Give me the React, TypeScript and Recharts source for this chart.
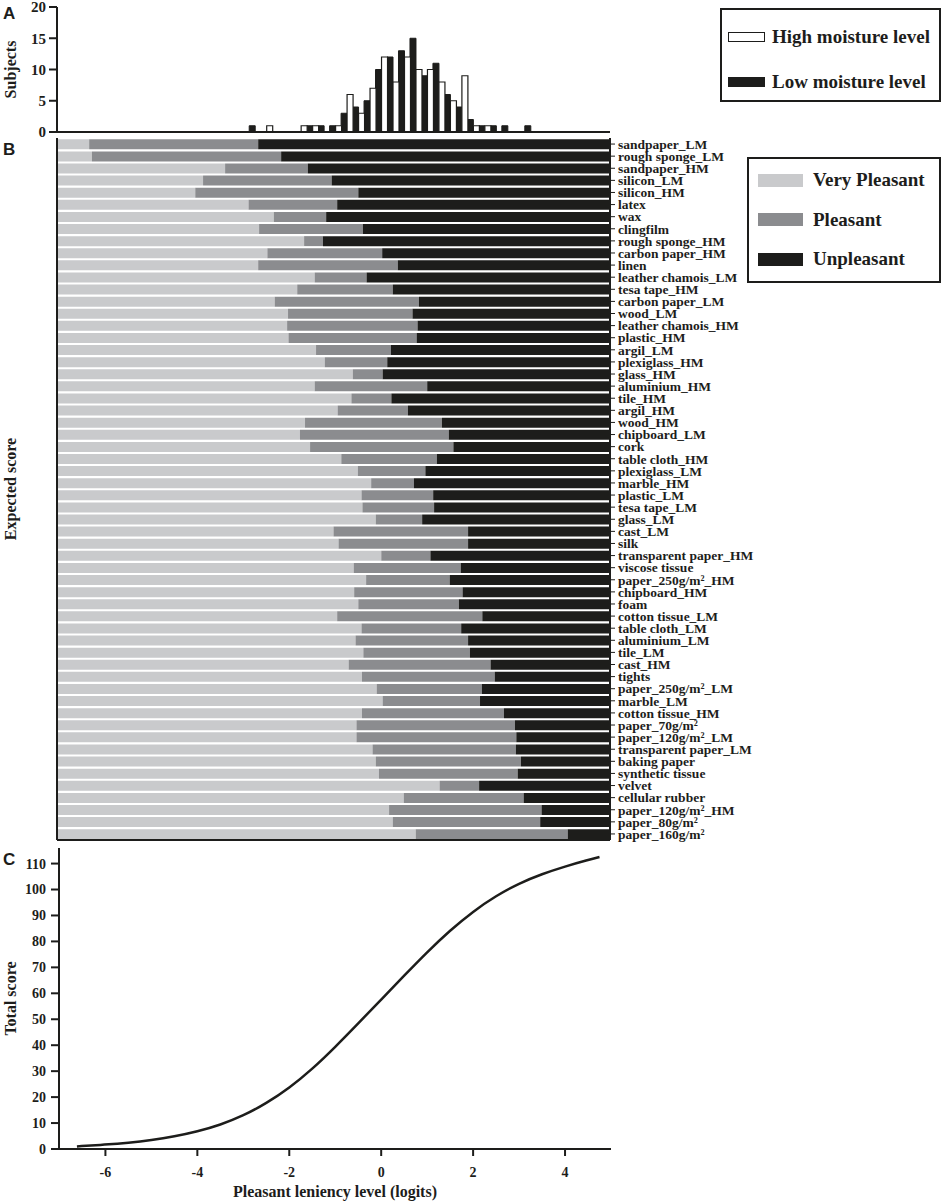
import * as React from 'react';
import { BarChart, Bar, LineChart, Line, XAxis, YAxis, Legend } from 'recharts';

const SERIF = "'Liberation Serif', 'Times New Roman', serif";
const INK = '#1d1d1b';

// shared logit scale for the three panels
const LOGIT_MIN = -7.06;
const LOGIT_MAX = 4.98;
const LOGIT_TICKS = [-6, -4, -2, 0, 2, 4];

// panel A: subjects per leniency bin
const binCenters = [
  -2.75, -2.5, -2.25, -2, -1.75, -1.5, -1.25, -1, -0.75, -0.5, -0.25, 0, 0.25,
  0.5, 0.75, 1, 1.25, 1.5, 1.75, 2, 2.25, 2.5, 2.75, 3, 3.25,
];
const highMoisture = [0, 1, 0, 0, 1, 1, 0, 1, 6, 3, 7, 12, 8, 12, 10, 10, 8, 5, 9, 1, 1, 0, 0, 0, 0];
const lowMoisture = [1, 0, 0, 0, 0, 1, 1, 1, 3, 4, 5, 10, 12, 13, 15, 9, 11, 6, 4, 2, 1, 1, 1, 0, 1];
const subjectTicks = [0, 5, 10, 15, 20];
const moistureOrder = ['High moisture level', 'Low moisture level'];

// panel B: category thresholds per material (logits)
const materials = [
  'sandpaper_LM', 'rough sponge_LM', 'sandpaper_HM', 'silicon_LM', 'silicon_HM',
  'latex', 'wax', 'clingfilm', 'rough sponge_HM', 'carbon paper_HM', 'linen',
  'leather chamois_LM', 'tesa tape_HM', 'carbon paper_LM', 'wood_LM',
  'leather chamois_HM', 'plastic_HM', 'argil_LM', 'plexiglass_HM', 'glass_HM',
  'aluminium_HM', 'tile_HM', 'argil_HM', 'wood_HM', 'chipboard_LM', 'cork',
  'table cloth_HM', 'plexiglass_LM', 'marble_HM', 'plastic_LM', 'tesa tape_LM',
  'glass_LM', 'cast_LM', 'silk', 'transparent paper_HM', 'viscose tissue',
  'paper_250g/m²_HM', 'chipboard_HM', 'foam', 'cotton tissue_LM', 'table cloth_LM',
  'aluminium_LM', 'tile_LM', 'cast_HM', 'tights', 'paper_250g/m²_LM', 'marble_LM',
  'cotton tissue_HM', 'paper_70g/m²', 'paper_120g/m²_LM', 'transparent paper_LM',
  'baking paper', 'synthetic tissue', 'velvet', 'cellular rubber',
  'paper_120g/m²_HM', 'paper_80g/m²', 'paper_160g/m²',
];
const veryPleasantTo = [
  -6.36, -6.3, -3.4, -3.88, -4.05, -2.89, -2.34, -2.66, -1.68, -2.48, -2.68,
  -1.45, -1.83, -2.32, -2.03, -2.05, -2.02, -1.42, -1.23, -0.62, -1.45, -0.65,
  -0.95, -1.66, -1.77, -1.55, -0.87, -0.51, -0.22, -0.43, -0.41, -0.12, -1.04,
  -0.93, 0.0, -0.6, -0.33, -0.59, -0.5, -0.96, -0.43, -0.56, -0.39, -0.71, -0.42,
  -0.1, 0.03, -0.42, -0.54, -0.54, -0.19, -0.12, -0.05, 1.27, 0.49, 0.17, 0.25, 0.75,
];
const pleasantTo = [
  -2.68, -2.18, -1.6, -1.08, -0.5, -0.96, -1.2, -0.4, -1.27, 0.02, 0.36, -0.32,
  0.25, 0.82, 0.68, 0.79, 0.77, 0.21, 0.13, 0.03, 1.0, 0.22, 0.58, 1.32, 1.47,
  1.57, 1.21, 0.96, 0.71, 1.13, 1.15, 0.89, 1.89, 1.89, 1.07, 1.73, 1.49, 1.77,
  1.69, 2.2, 1.74, 1.89, 1.93, 2.38, 2.47, 2.19, 2.15, 2.67, 2.91, 2.94, 2.93,
  3.04, 2.97, 2.13, 3.1, 3.49, 3.46, 4.06,
];
const pleasantOrder = ['Very Pleasant', 'Pleasant', 'Unpleasant'];

// panel C: expected total score curve
const curveLogits = [
  -6.62, -6, -5.5, -5, -4.5, -4, -3.5, -3, -2.5, -2, -1.5, -1, -0.5, 0, 0.5, 1,
  1.5, 2, 2.5, 3, 3.5, 4, 4.5, 4.75,
];
const curveScores = [
  1.0, 1.7, 2.4, 3.4, 4.8, 6.7, 9.3, 12.8, 17.6, 23.5, 30.8, 39.3, 48.4, 57.6,
  66.8, 75.9, 84.3, 91.6, 97.6, 102.4, 106.0, 108.9, 111.4, 112.5,
];
const scoreTicks = [0, 10, 20, 30, 40, 50, 60, 70, 80, 90, 100, 110];

const histogram = binCenters.map((bin, i) => ({
  bin,
  low: lowMoisture[i],
  high: highMoisture[i],
}));

const rows = materials.map((material, i) => ({
  material,
  veryPleasant: [LOGIT_MIN, veryPleasantTo[i]],
  pleasant: [veryPleasantTo[i], pleasantTo[i]],
  unpleasant: [pleasantTo[i], LOGIT_MAX],
}));

const curve = curveLogits.map((logit, i) => ({ logit, score: curveScores[i] }));

const line = { stroke: INK, strokeWidth: 2 };
const boldText = (fontSize: number) => ({ fontFamily: SERIF, fontSize, fontWeight: 700, fill: INK });
const axisTitle = (value: string, dx: number) => ({
  value,
  angle: -90,
  position: 'center' as const,
  dx,
  style: { fontFamily: SERIF, fontSize: 16, fontWeight: 700, fill: INK },
});

const legendText: React.CSSProperties = {
  fontFamily: SERIF,
  fontWeight: 700,
  fontSize: 19,
  color: INK,
  lineHeight: '22px',
  whiteSpace: 'nowrap',
};

const inOrder = (payload: any[] | undefined, order: string[]) =>
  [...(payload ?? [])].sort((a, b) => order.indexOf(a.value) - order.indexOf(b.value));

function MoistureLegend(props: any) {
  const items = inOrder(props.payload, moistureOrder);
  return (
    <div style={{ position: 'relative', width: 221, height: 94, border: `2px solid ${INK}`, boxSizing: 'border-box' }}>
      {items.map((entry: any, i: number) => (
        <div key={entry.value} style={{ position: 'absolute', left: 6, top: 16 + i * 45, display: 'flex', alignItems: 'center' }}>
          <span style={{ display: 'inline-block', width: 37, height: 10, background: entry.color, border: `1.5px solid ${INK}`, boxSizing: 'border-box' }} />
          <span style={{ ...legendText, marginLeft: 7 }}>{entry.value}</span>
        </div>
      ))}
    </div>
  );
}

function PleasantLegend(props: any) {
  const items = inOrder(props.payload, pleasantOrder);
  return (
    <div style={{ position: 'relative', width: 194, height: 126, border: `2px solid ${INK}`, boxSizing: 'border-box' }}>
      {items.map((entry: any, i: number) => (
        <div key={entry.value} style={{ position: 'absolute', left: 9, top: 10 + i * 39.5, display: 'flex', alignItems: 'center' }}>
          <span style={{ display: 'inline-block', width: 45, height: 13, background: entry.color }} />
          <span style={{ ...legendText, marginLeft: 10 }}>{entry.value}</span>
        </div>
      ))}
    </div>
  );
}

const letter = (text: string, top: number) => (
  <div style={{ position: 'absolute', left: 3, top, fontFamily: "'Liberation Sans', Arial, sans-serif", fontWeight: 700, fontSize: 17, color: INK, lineHeight: '17px' }}>
    {text}
  </div>
);

export default function App() {
  return (
    <div style={{ position: 'absolute', left: 0, top: 0, width: 945, height: 1203, background: '#fff' }}>
      <div style={{ position: 'absolute', left: 0, top: 0 }}>
        <BarChart width={945} height={140} data={histogram} margin={{ top: 7, right: 335, bottom: 0, left: 7 }} barGap={0} barCategoryGap={0}>
          <XAxis dataKey="bin" type="number" domain={[LOGIT_MIN, LOGIT_MAX]} allowDataOverflow ticks={LOGIT_TICKS} tick={false} tickSize={5} height={8} axisLine={line} tickLine={line} />
          <XAxis xAxisId="top" orientation="top" type="number" domain={[LOGIT_MIN, LOGIT_MAX]} allowDataOverflow tick={false} tickLine={false} height={0} axisLine={line} />
          <YAxis domain={[0, 20]} allowDataOverflow ticks={subjectTicks} interval={0} width={50} tickSize={8} tickMargin={3} tick={boldText(15)} axisLine={line} tickLine={line} label={axisTitle('Subjects', -22)} />
          <YAxis yAxisId="right" orientation="right" domain={[0, 20]} width={0} tick={false} tickLine={false} axisLine={line} />
          <Bar dataKey="low" name="Low moisture level" fill={INK} stroke={INK} strokeWidth={1} isAnimationActive={false} />
          <Bar dataKey="high" name="High moisture level" fill="#ffffff" stroke={INK} strokeWidth={1.2} isAnimationActive={false} />
          <Legend layout="horizontal" verticalAlign="middle" align="center" content={MoistureLegend} wrapperStyle={{ left: 720, top: 8, width: 221, height: 94 }} />
        </BarChart>
      </div>

      <div style={{ position: 'absolute', left: 0, top: 130 }}>
        <BarChart layout="vertical" width={945} height={720} data={rows} margin={{ top: 8, right: 35, bottom: 0, left: 7 }} barCategoryGap={1.3}>
          <XAxis type="number" domain={[LOGIT_MIN, LOGIT_MAX]} allowDataOverflow ticks={LOGIT_TICKS} tick={false} tickSize={6} height={10} axisLine={line} tickLine={line} />
          <XAxis xAxisId="top" orientation="top" type="number" domain={[LOGIT_MIN, LOGIT_MAX]} allowDataOverflow tick={false} tickLine={false} height={0} axisLine={line} />
          <YAxis yAxisId="vp" type="category" dataKey="material" hide />
          <YAxis yAxisId="p" type="category" dataKey="material" width={50} tick={false} tickLine={false} axisLine={line} label={axisTitle('Expected score', -22)} />
          <YAxis yAxisId="u" type="category" dataKey="material" orientation="right" width={300} interval={0} tickSize={5} tickMargin={3} tick={boldText(13.5)} axisLine={line} tickLine={{ stroke: INK, strokeWidth: 1 }} />
          <Bar yAxisId="vp" dataKey="veryPleasant" name="Very Pleasant" fill="#c9cacc" isAnimationActive={false} />
          <Bar yAxisId="p" dataKey="pleasant" name="Pleasant" fill="#8b8c8f" isAnimationActive={false} />
          <Bar yAxisId="u" dataKey="unpleasant" name="Unpleasant" fill={INK} isAnimationActive={false} />
          <Legend layout="horizontal" verticalAlign="middle" align="center" content={PleasantLegend} wrapperStyle={{ left: 747, top: 27, width: 194, height: 126 }} />
        </BarChart>
      </div>

      <div style={{ position: 'absolute', left: 0, top: 840 }}>
        <LineChart width={945} height={363} data={curve} margin={{ top: 8, right: 334, bottom: 0, left: 9 }}>
          <XAxis dataKey="logit" type="number" domain={[-7.01, 5.0]} allowDataOverflow ticks={LOGIT_TICKS} interval={0} tickSize={7} tickMargin={11} height={54} tick={boldText(14)} axisLine={line} tickLine={line}
            label={{ value: 'Pleasant leniency level (logits)', position: 'insideBottom', offset: 6, style: { fontFamily: SERIF, fontSize: 16, fontWeight: 700, fill: INK } }} />
          <XAxis xAxisId="top" orientation="top" type="number" domain={[-7.01, 5.0]} allowDataOverflow tick={false} tickLine={false} height={0} axisLine={line} />
          <YAxis domain={[0, 116]} allowDataOverflow ticks={scoreTicks} interval={0} width={50} tickSize={8} tickMargin={5} tick={boldText(14)} axisLine={line} tickLine={line} label={axisTitle('Total score', -24)} />
          <YAxis yAxisId="right" orientation="right" domain={[0, 116]} width={0} tick={false} tickLine={false} axisLine={line} />
          <Line dataKey="score" type="basis" stroke={INK} strokeWidth={2.5} dot={false} isAnimationActive={false} />
        </LineChart>
      </div>

      {letter('A', 5)}
      {letter('B', 141)}
      {letter('C', 851)}
    </div>
  );
}
